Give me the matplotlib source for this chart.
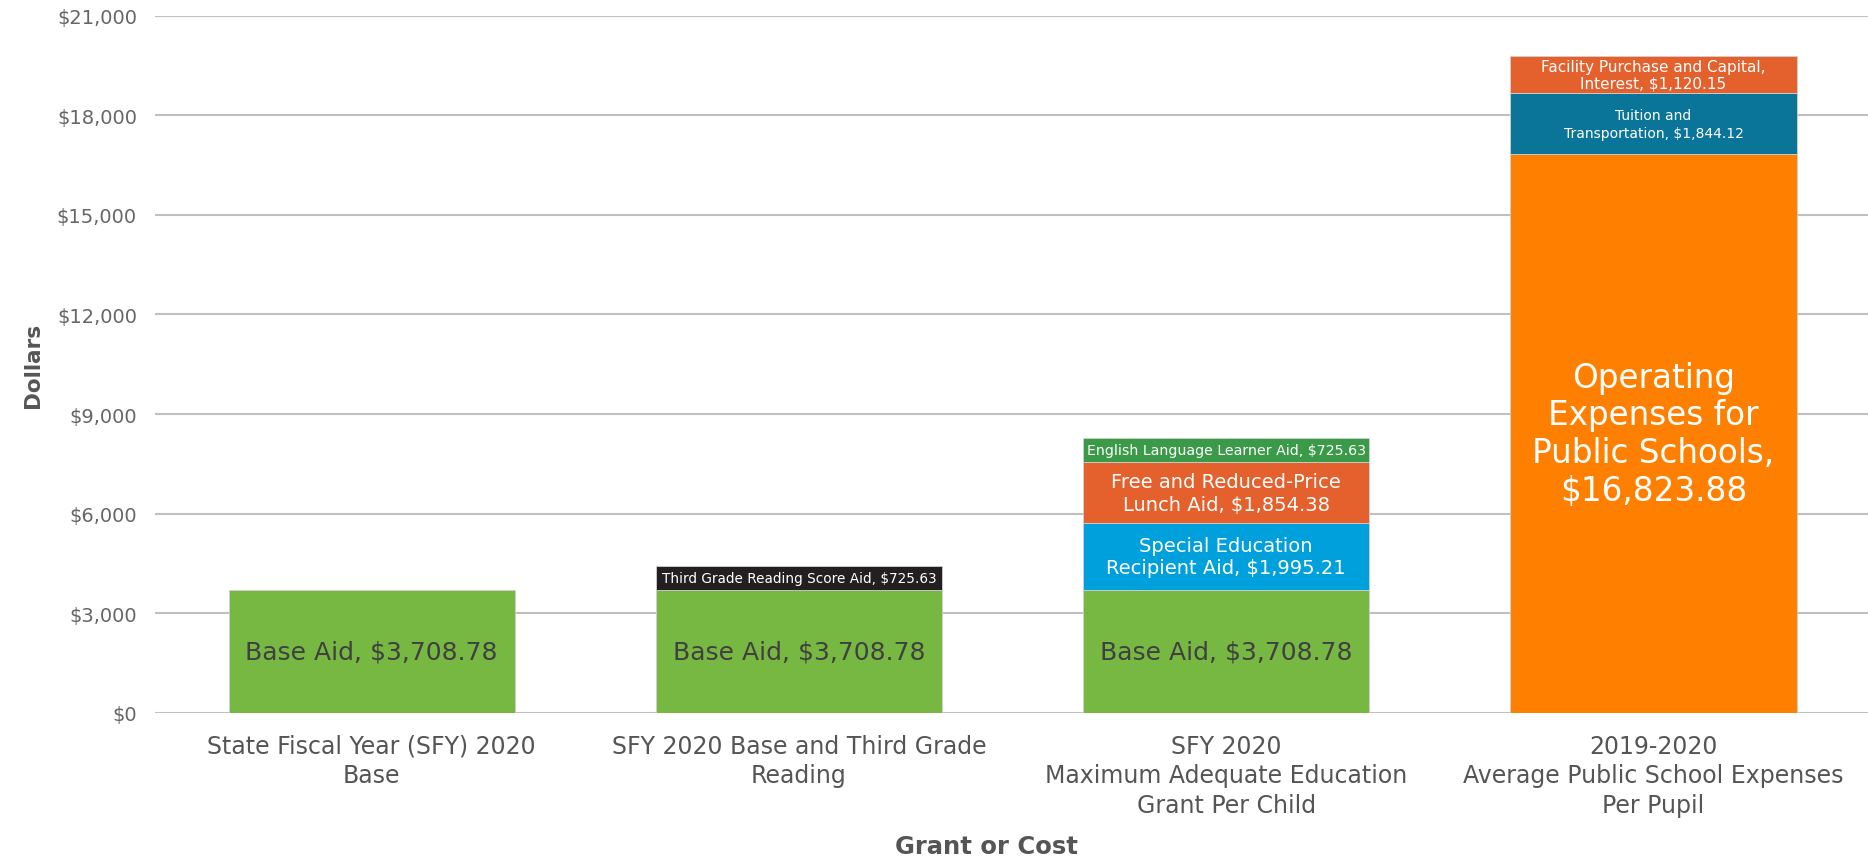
import matplotlib
matplotlib.use("Agg")
import matplotlib.pyplot as plt
from matplotlib.ticker import FuncFormatter

categories = [
    "State Fiscal Year (SFY) 2020\nBase",
    "SFY 2020 Base and Third Grade\nReading",
    "SFY 2020\nMaximum Adequate Education\nGrant Per Child",
    "2019-2020\nAverage Public School Expenses\nPer Pupil",
]

seg_cat = [0, 1, 1, 2, 2, 2, 2, 3, 3, 3]
seg_values = [3708.78, 3708.78, 725.63, 3708.78, 1995.21, 1854.38, 725.63,
              16823.88, 1844.12, 1120.15]
seg_labels = [
    "Base Aid, $3,708.78",
    "Base Aid, $3,708.78",
    "Third Grade Reading Score Aid, $725.63",
    "Base Aid, $3,708.78",
    "Special Education\nRecipient Aid, $1,995.21",
    "Free and Reduced-Price\nLunch Aid, $1,854.38",
    "English Language Learner Aid, $725.63",
    "Operating\nExpenses for\nPublic Schools,\n$16,823.88",
    "Tuition and\nTransportation, $1,844.12",
    "Facility Purchase and Capital,\nInterest, $1,120.15",
]
seg_colors = ["#77B843", "#77B843", "#231F20", "#77B843", "#00A0DC", "#E4602D",
              "#3A9A48", "#FF8000", "#0A7499", "#E4602D"]
seg_text_colors = ["#404040", "#404040", "white", "#404040", "white", "white",
                   "white", "white", "white", "white"]
seg_fontsizes = [18, 18, 9.8, 18, 14, 14, 10.2, 23.5, 10, 11]
seg_linespacing = [1.2, 1.2, 1.2, 1.2, 1.25, 1.25, 1.2, 1.18, 1.35, 1.15]

yticks = [0, 3000, 6000, 9000, 12000, 15000, 18000, 21000]

plt.rcParams['font.family'] = ['DejaVu Sans']

fig = plt.figure(figsize=(18.68, 8.62), dpi=100)
ax = fig.add_axes([0.083, 0.172, 0.917, 0.8086])

bottoms = [0.0] * len(categories)
for c, v, lab, col, tcol, fs, ls in zip(seg_cat, seg_values, seg_labels, seg_colors,
                                        seg_text_colors, seg_fontsizes, seg_linespacing):
    ax.bar(c, v, bottom=bottoms[c], width=0.67, color=col,
           edgecolor="#D0D0D0", linewidth=0.6, zorder=3)
    ax.text(c, bottoms[c] + v / 2, lab, ha="center", va="center", color=tcol,
            fontsize=fs, zorder=4, linespacing=ls)
    bottoms[c] += v

ax.set_xlim(-0.507, 3.502)
ax.set_ylim(0, 21000)
ax.set_yticks(yticks)
ax.yaxis.set_major_formatter(FuncFormatter(lambda v, p: "${:,.0f}".format(v)))
ax.set_xticks(range(len(categories)))
ax.set_xticklabels(categories, fontsize=17, color="#555555", linespacing=1.3)
ax.tick_params(axis="y", length=0, labelsize=14, labelcolor="#666666", pad=13)
ax.tick_params(axis="x", length=0, pad=15)
ax.grid(axis="y", color="#C0C0C0", linewidth=1.5, zorder=0)
for s in ax.spines.values():
    s.set_visible(False)

ax.set_ylabel("Dollars", fontsize=15.5, fontweight="bold", color="#555555", labelpad=10)
fig.text(0.0835 + 0.917 * 0.485, 0.0174, "Grant or Cost", ha="center", va="center",
         fontsize=17.5, fontweight="bold", color="#555555")

fig.savefig("out.png", dpi=100)
